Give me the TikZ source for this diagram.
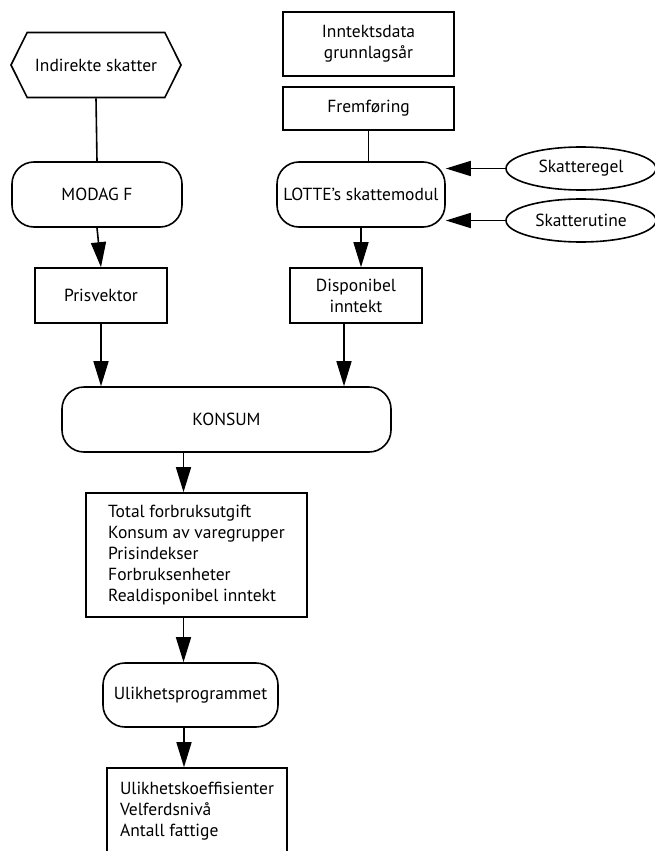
\documentclass[tikz,border=0pt]{standalone}
\usepackage{fontspec}
\setmainfont{PT Sans}
\usetikzlibrary{arrows.meta,positioning,shapes.geometric,shapes.symbols}
\tikzset{
    box/.style={draw, line width=1.6pt, font=\fontsize{17.5}{21}\selectfont, inner sep=1pt},
    prog/.style={box, rounded corners=22pt},
    input/.style={box, ellipse},
    hexa/.style={box, signal, signal to=west and east, signal pointer angle=127},
    arr/.style={line width=1.6pt, -{Triangle[length=25pt, width=15pt]}},
    link/.style={line width=1.6pt}
}

\begin{document}
\begin{tikzpicture}[x=1pt, y=1pt]
    \useasboundingbox (0,0) rectangle (654,-851);
    % left column
    \node[hexa, minimum width=170pt, minimum height=65pt] (indirekte) at (96,-65) {Indirekte skatter};
    \node[prog, minimum width=170pt, minimum height=65pt] (modag) at (97,-194.5) {MODAG F};
    \node[box, minimum width=132pt, minimum height=55pt] (pris) at (101,-295.5) {Prisvektor};
    % right column
    \node[box, minimum width=171pt, minimum height=64pt, align=center] (inntekt) at (368.5,-44) {Inntektsdata\\grunnlagsår};
    \node[box, minimum width=171pt, minimum height=43pt] (frem) at (368.5,-108.5) {Fremføring};
    \node[prog, minimum width=168pt, minimum height=65pt, inner sep=0pt] (lotte) at (361,-194.5) {LOTTE’s skattemodul};
    \node[input, minimum width=150pt, minimum height=43pt, inner sep=0pt] (regel) at (581,-168.5) {Skatteregel};
    \node[input, minimum width=150pt, minimum height=43pt, inner sep=0pt] (rutine) at (581,-220.5) {Skatterutine};
    \node[box, minimum width=132pt, minimum height=55pt, align=center] (disp) at (356,-295.5) {Disponibel\\inntekt};
    % lower part
    \node[prog, minimum width=329pt, minimum height=65pt] (konsum) at (226.5,-419.5) {KONSUM};
    \node[box, minimum width=221pt, minimum height=124pt, align=left] (total) at (196.5,-555) {Total forbruksutgift\\Konsum av varegrupper\\Prisindekser\\Forbruksenheter\\Realdisponibel inntekt};
    \node[prog, minimum width=175pt, minimum height=64pt] (ulik) at (190.5,-695) {Ulikhetsprogrammet};
    \node[box, minimum width=180pt, minimum height=86pt, align=left] (result) at (197,-811) {Ulikhetskoeffisienter\\Velferdsnivå\\Antall fattige};

    \draw[link] (indirekte.south) -- (modag.north);
    \draw[arr] (modag.south) -- (pris.north);
    \draw[link] (frem.south) -- (frem.south |- lotte.north);
    \draw[arr] (lotte.south) -- (lotte.south |- disp.north);
    \draw[arr] (regel.west) -- (regel.west -| lotte.east);
    \draw[arr] (rutine.west) -- (rutine.west -| lotte.east);
    \draw[arr] (pris.south) -- (pris.south |- konsum.north);
    \draw[arr] ([xshift=-12pt]disp.south) -- ([xshift=-12pt]disp.south |- konsum.north);
    \draw[arr] ([xshift=-13pt]total.north |- konsum.south) -- ([xshift=-13pt]total.north);
    \draw[arr] ([xshift=-13pt]total.south) -- ([xshift=-13pt]total.south |- ulik.north);
    \draw[arr] ([xshift=-6.5pt]ulik.south) -- ([xshift=-6.5pt]ulik.south |- result.north);
\end{tikzpicture}
\end{document}
